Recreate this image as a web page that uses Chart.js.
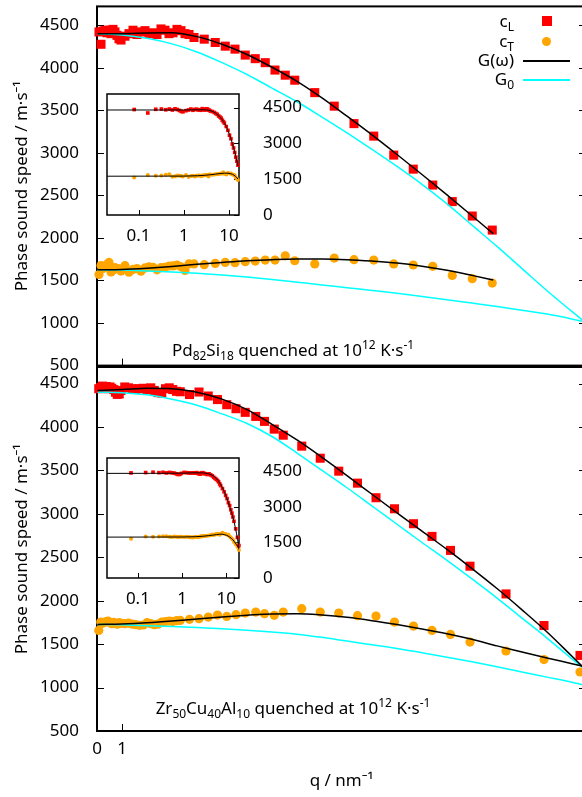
<!DOCTYPE html>
<html>
<head>
<meta charset="utf-8">
<script src="https://cdn.jsdelivr.net/npm/chart.js"></script>
<style>
  html, body { margin: 0; padding: 0; background: #fff; }
  body { width: 582px; height: 797px; overflow: hidden; position: relative; font-family: 'Noto Sans', sans-serif; color: #000; }
  canvas { position: absolute; }
  .txt { position: absolute; font-size: 17px; line-height: 20px; white-space: nowrap; }
  .txt sub { font-size: 12px; line-height: 0; vertical-align: -4px; }
  .txt sup { font-size: 12px; line-height: 0; vertical-align: 7px; }
  .leg { left: 400px; width: 114px; text-align: right; }
  .note { transform: translateX(-50%); }
  .sym { position: absolute; }
</style>
</head>
<body>
<canvas id="topMain" width="600" height="372" style="left:0;top:0"></canvas>
<canvas id="botMain" width="600" height="437" style="left:0;top:360px"></canvas>
<canvas id="topInset" width="220" height="170" style="left:90px;top:80px"></canvas>
<canvas id="botInset" width="220" height="170" style="left:90px;top:444px"></canvas>

<!-- legend -->
<div class="txt leg" style="top:11px">c<sub>L</sub></div>
<div class="txt leg" style="top:31px">c<sub>T</sub></div>
<div class="txt leg" style="top:50px">G(ω)</div>
<div class="txt leg" style="top:69px">G<sub>0</sub></div>
<div class="sym" style="left:542px;top:16px;width:10px;height:10px;background:#ff0000"></div>
<div class="sym" style="left:542px;top:37px;width:9px;height:9px;border-radius:50%;background:#ffa500"></div>
<div class="sym" style="left:523px;top:60px;width:47px;height:2px;background:#000"></div>
<div class="sym" style="left:523px;top:79px;width:47px;height:2px;background:#00ffff"></div>

<!-- panel notes -->
<div class="txt note" style="left:293px;top:340px">Pd<sub>82</sub>Si<sub>18</sub> quenched at 10<sup>12</sup> K·s<sup>-1</sup></div>
<div class="txt note" style="left:293px;top:698px">Zr<sub>50</sub>Cu<sub>40</sub>Al<sub>10</sub> quenched at 10<sup>12</sup> K·s<sup>-1</sup></div>

<script>
// ticks
const yTicks = [500, 1000, 1500, 2000, 2500, 3000, 3500, 4000, 4500];
const qTicks = [0, 1];
const insetXTicks = [0.1, 1, 10];
const insetYTicks = [0, 1500, 3000, 4500];

// Pd82Si18 panel
const qTop = [0.08, 0.16, 0.24, 0.32, 0.40, 0.48, 0.56, 0.64, 0.72, 0.80, 0.88, 0.96, 1.12, 1.28, 1.44,
  1.60, 1.76, 1.92, 2.08, 2.24, 2.40, 2.56, 2.72, 2.88, 3.04, 3.20, 3.36, 3.52, 3.68, 3.88,
  4.29, 4.73, 5.13, 5.52, 5.93, 6.33, 6.73, 7.12, 7.53, 7.91, 8.71, 9.49, 10.28, 11.07, 11.87,
  12.65, 13.43, 14.21, 15.01, 15.81];
const cLTop = [4420, 4275, 4430, 4440, 4410, 4440, 4400, 4450, 4420, 4380, 4340, 4325, 4370, 4400, 4440,
  4390, 4420, 4435, 4400, 4410, 4390, 4455, 4440, 4400, 4410, 4450, 4435, 4400, 4390, 4355,
  4335, 4296, 4253, 4218, 4148, 4106, 4059, 3972, 3912, 3853, 3707, 3548, 3343, 3196, 2973,
  2808, 2621, 2427, 2257, 2092];
const cTTop = [1570, 1675, 1640, 1660, 1690, 1712, 1600, 1620, 1650, 1640, 1636, 1610, 1674, 1597, 1630,
  1640, 1609, 1648, 1660, 1655, 1625, 1650, 1655, 1670, 1671, 1682, 1660, 1617, 1694, 1694,
  1686, 1701, 1712, 1709, 1721, 1728, 1740, 1740, 1790, 1732, 1694, 1763, 1744, 1740, 1694,
  1682, 1666, 1559, 1521, 1470];
const qFitTop = [0.02, 1, 2, 3, 4, 5, 6, 7, 8, 9, 10, 11, 12, 13, 14, 15, 15.85];
const gLTop = [4400, 4400, 4408, 4410, 4365, 4275, 4155, 4005, 3840, 3645, 3430, 3210, 2980, 2745, 2505, 2260, 2050];
const gTTop = [1625, 1630, 1645, 1665, 1690, 1712, 1732, 1745, 1752, 1752, 1745, 1728, 1705, 1668, 1620, 1560, 1505];
const q0Top = [0.02, 1, 2, 3, 4, 5, 6, 7, 8, 9, 10, 11, 12, 13, 14, 15, 16, 17, 18, 19.6];
const g0LTop = [4400, 4385, 4345, 4280, 4185, 4060, 3920, 3760, 3600, 3420, 3235, 3040, 2840, 2630, 2400, 2150, 1900, 1640, 1380, 990];
const g0TTop = [1625, 1622, 1612, 1600, 1585, 1565, 1540, 1512, 1480, 1448, 1415, 1383, 1350, 1313, 1275, 1235, 1195, 1150, 1105, 1010];

// Zr50Cu40Al10 panel
const qBot = [0.07, 0.15, 0.22, 0.30, 0.37, 0.44, 0.52, 0.59, 0.67, 0.74, 0.81, 0.89, 0.96, 1.11, 1.26,
  1.41, 1.55, 1.70, 1.85, 2.00, 2.15, 2.29, 2.44, 2.59, 2.74, 2.89, 3.03, 3.18, 3.33,
  3.70, 4.08, 4.45, 4.82, 5.19, 5.56, 5.93, 6.35, 6.70, 7.09, 7.45, 8.19, 8.93, 9.67, 10.42,
  11.16, 11.90, 12.66, 13.40, 14.14, 14.92, 16.36, 17.88, 19.32];
const cLBot = [4440, 4455, 4470, 4450, 4465, 4440, 4460, 4445, 4430, 4400, 4375, 4380, 4420, 4460, 4450,
  4440, 4435, 4440, 4445, 4430, 4450, 4420, 4395, 4390, 4440, 4450, 4430, 4410, 4405,
  4373, 4402, 4356, 4315, 4256, 4210, 4168, 4121, 4064, 3975, 3905, 3779, 3640, 3491, 3353,
  3185, 3058, 2886, 2740, 2579, 2397, 2078, 1714, 1370];
const cTBot = [1658, 1754, 1740, 1750, 1760, 1765, 1745, 1735, 1750, 1740, 1730, 1747, 1740, 1735, 1742,
  1730, 1724, 1716, 1720, 1747, 1735, 1724, 1730, 1754, 1760, 1765, 1760, 1770, 1773,
  1785, 1793, 1811, 1834, 1819, 1839, 1858, 1869, 1851, 1831, 1869, 1908, 1869, 1858, 1828,
  1823, 1754, 1708, 1658, 1612, 1524, 1421, 1322, 1179];
const qFitBot = [0.02, 1, 2, 3, 4, 5, 6, 7, 8, 9, 10, 11, 12, 13, 14, 15, 16, 17, 18, 19, 19.6];
const gLBot = [4420, 4430, 4445, 4440, 4400, 4320, 4200, 4030, 3850, 3650, 3440, 3225, 3010, 2800, 2590, 2370, 2140, 1895, 1640, 1360, 1190];
const gTBot = [1727, 1732, 1745, 1765, 1790, 1812, 1832, 1848, 1850, 1835, 1808, 1770, 1725, 1675, 1620, 1555, 1480, 1410, 1340, 1275, 1235];
const g0LBot = [4400, 4395, 4370, 4320, 4250, 4150, 4040, 3890, 3700, 3500, 3300, 3090, 2880, 2670, 2464, 2250, 2030, 1800, 1570, 1330, 1190];
const g0TBot = [1727, 1722, 1712, 1702, 1690, 1676, 1660, 1640, 1615, 1578, 1535, 1493, 1450, 1400, 1350, 1296, 1240, 1180, 1120, 1060, 1020];

Chart.defaults.font.family = "'Noto Sans', sans-serif";
Chart.defaults.font.size = 17;
Chart.defaults.color = '#000';

function pts(qs, vs) {
  return qs.map((q, i) => ({x: q, y: vs[i]}));
}

// gnuplot style box with inward ticks
const frameTicks = {
  id: 'frameTicks',
  beforeDatasetsDraw(chart, args, o) {
    const {ctx, chartArea: a} = chart;
    const xs = chart.scales.x, ys = chart.scales.y;
    ctx.save();
    ctx.strokeStyle = '#000';
    ctx.lineWidth = 1;
    ctx.beginPath();
    xs.ticks.forEach(t => {
      const px = Math.round(xs.getPixelForValue(t.value)) + 0.5;
      ctx.moveTo(px, a.bottom);
      ctx.lineTo(px, a.bottom - o.len);
    });
    ys.ticks.forEach(t => {
      const py = Math.round(ys.getPixelForValue(t.value)) + 0.5;
      if (o.left) { ctx.moveTo(a.left, py); ctx.lineTo(a.left + o.len, py); }
      if (o.right) { ctx.moveTo(a.right, py); ctx.lineTo(a.right - o.len, py); }
    });
    ctx.stroke();
    ctx.lineWidth = o.border;
    ctx.strokeRect(a.left, a.top, a.right - a.left, a.bottom - a.top);
    ctx.restore();
  }
};

function setTicks(list) {
  return scale => { scale.ticks = list.map(v => ({value: v})); };
}

function scatterSet(data, style, r, color) {
  return {
    data: data, showLine: false, clip: false, order: 3,
    pointStyle: style, pointRadius: r, pointHoverRadius: r,
    pointBackgroundColor: color, pointBorderWidth: 0
  };
}

function curveSet(data, color, w) {
  return {
    data: data, showLine: true, order: 1, pointRadius: 0,
    borderColor: color, borderWidth: w || 1.5, cubicInterpolationMode: 'monotone'
  };
}

function mainChart(id, sets, yMax, padTop, xHeight, showX) {
  return new Chart(document.getElementById(id), {
    type: 'scatter',
    data: {datasets: sets},
    options: {
      responsive: false,
      animation: false,
      events: [],
      devicePixelRatio: 1,
      layout: {padding: {left: 0, top: padTop, right: 14, bottom: 0}},
      plugins: {
        legend: {display: false},
        tooltip: {enabled: false},
        frameTicks: {len: 7, border: 2, left: true, right: true}
      },
      scales: {
        x: {
          type: 'linear', min: 0, max: 19.56,
          grid: {display: false}, border: {display: false},
          afterBuildTicks: setTicks(qTicks),
          afterFit: s => { s.height = xHeight; s.paddingLeft = 0; s.paddingRight = 0; },
          ticks: {display: showX, padding: 0, callback: v => String(v)},
          title: {display: showX, text: 'q / nm⁻¹', padding: {top: 0, bottom: 6}}
        },
        y: {
          type: 'linear', min: 500, max: yMax,
          grid: {display: false}, border: {display: false},
          afterBuildTicks: setTicks(yTicks),
          afterFit: s => { s.width = 97; s.paddingTop = 0; s.paddingBottom = 0; },
          ticks: {padding: 10, callback: v => String(v)},
          title: {display: true, text: 'Phase sound speed / m·s⁻¹', padding: {top: 12, bottom: 0}}
        }
      }
    },
    plugins: [frameTicks]
  });
}

function insetChart(id, sets, xMax, padTop, xHeight) {
  return new Chart(document.getElementById(id), {
    type: 'scatter',
    data: {datasets: sets},
    options: {
      responsive: false,
      animation: false,
      events: [],
      devicePixelRatio: 1,
      layout: {padding: {left: 17, top: padTop, right: 0, bottom: 0}},
      plugins: {
        legend: {display: false},
        tooltip: {enabled: false},
        frameTicks: {len: 5, border: 1.5, left: false, right: true}
      },
      scales: {
        x: {
          type: 'logarithmic', min: 0.02, max: xMax,
          grid: {display: false}, border: {display: false},
          afterBuildTicks: setTicks(insetXTicks),
          afterFit: s => { s.height = xHeight; s.paddingLeft = 0; s.paddingRight = 0; },
          ticks: {padding: 3, callback: v => String(v)}
        },
        y: {
          type: 'linear', position: 'right', min: 0, max: 5070,
          grid: {display: false}, border: {display: false},
          afterBuildTicks: setTicks(insetYTicks),
          afterFit: s => { s.width = 71; s.paddingTop = 0; s.paddingBottom = 0; },
          ticks: {padding: 16, callback: v => String(v)}
        }
      }
    },
    plugins: [frameTicks]
  });
}

// top panel
mainChart('topMain', [
  scatterSet(pts(qTop, cLTop), 'rect', 6.4, '#ff0000'),
  scatterSet(pts(qTop, cTTop), 'circle', 4.6, '#ffa500'),
  curveSet(pts(qFitTop, gLTop), '#000000'),
  curveSet(pts(qFitTop, gTTop), '#000000'),
  curveSet(pts(q0Top, g0LTop), '#00ffff'),
  curveSet(pts(q0Top, g0TTop), '#00ffff')
], 4720, 0, 5, false);

// bottom panel
mainChart('botMain', [
  scatterSet(pts(qBot, cLBot), 'rect', 6.4, '#ff0000'),
  scatterSet(pts(qBot, cTBot), 'circle', 4.6, '#ffa500'),
  curveSet(pts(qFitBot, gLBot), '#000000'),
  curveSet(pts(qFitBot, gTBot), '#000000'),
  curveSet(pts(qFitBot, g0LBot), '#00ffff'),
  curveSet(pts(qFitBot, g0TBot), '#00ffff')
], 4690, 7, 66, true);

// insets, log q axis
insetChart('topInset', [
  scatterSet(pts(qTop, cLTop), 'rect', 2.6, '#ff0000'),
  scatterSet(pts(qTop, cTTop), 'circle', 2, '#ffa500'),
  curveSet(pts(qFitTop, gLTop), '#000000', 1),
  curveSet(pts(qFitTop, gTTop), '#000000', 1)
], 16.7, 14, 35);

insetChart('botInset', [
  scatterSet(pts(qBot, cLBot), 'rect', 2.6, '#ff0000'),
  scatterSet(pts(qBot, cTBot), 'circle', 2, '#ffa500'),
  curveSet(pts(qFitBot, gLBot), '#000000', 1),
  curveSet(pts(qFitBot, gTBot), '#000000', 1)
], 19.4, 14, 36);
</script>
</body>
</html>
